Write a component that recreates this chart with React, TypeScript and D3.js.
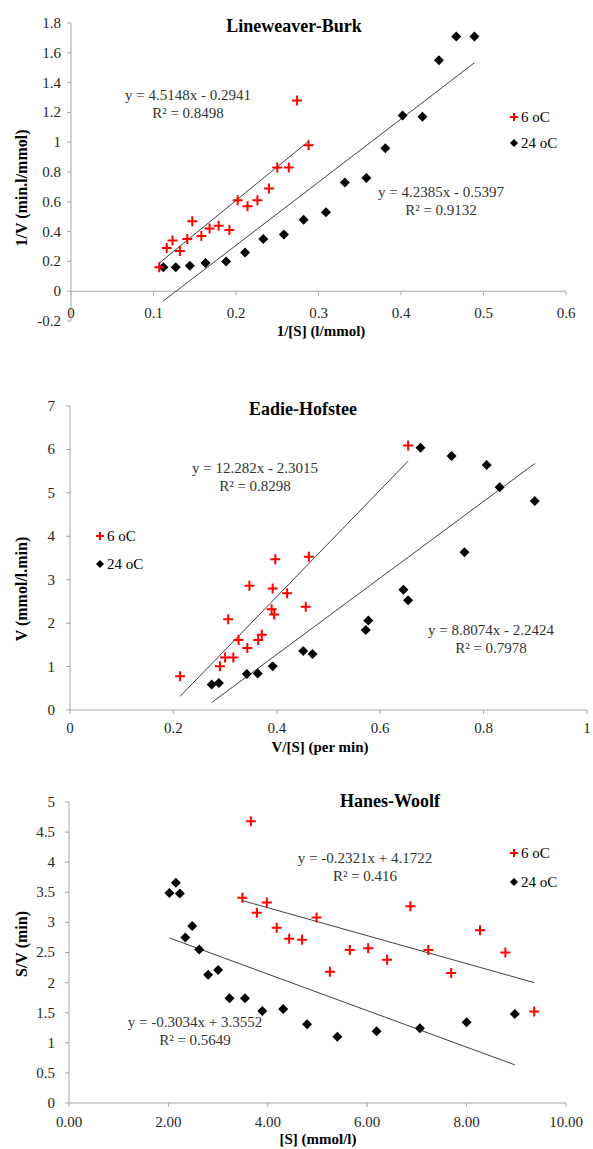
import React from "react";
import * as d3 from "d3";

const W = 593;
const H = 1149;
const FONT = "'Liberation Serif', 'Times New Roman', 'DejaVu Serif', serif";

// Lineweaver-Burk data
const lbRedX = [0.107, 0.116, 0.123, 0.132, 0.141, 0.147, 0.158, 0.168, 0.179, 0.192, 0.202, 0.214, 0.226, 0.24, 0.25, 0.264, 0.274, 0.288];
const lbRedY = [0.16, 0.29, 0.34, 0.27, 0.35, 0.47, 0.37, 0.42, 0.44, 0.41, 0.61, 0.57, 0.61, 0.69, 0.83, 0.83, 1.28, 0.98];
const lbBlackX = [0.112, 0.127, 0.144, 0.163, 0.188, 0.211, 0.233, 0.258, 0.282, 0.309, 0.332, 0.358, 0.381, 0.402, 0.426, 0.446, 0.467, 0.489];
const lbBlackY = [0.16, 0.16, 0.17, 0.19, 0.2, 0.26, 0.35, 0.38, 0.48, 0.53, 0.73, 0.76, 0.96, 1.18, 1.17, 1.55, 1.71, 1.71];
const lbFitRed = [4.5148, -0.2941];
const lbFitBlack = [4.2385, -0.5397];
const lbEqRed = ["y = 4.5148x - 0.2941", "R² = 0.8498"];
const lbEqBlack = ["y = 4.2385x - 0.5397", "R² = 0.9132"];
const lbXTicks = [0, 0.1, 0.2, 0.3, 0.4, 0.5, 0.6];
const lbYTicks = [-0.2, 0, 0.2, 0.4, 0.6, 0.8, 1, 1.2, 1.4, 1.6, 1.8];

// Eadie-Hofstee data
const ehRedX = [0.213, 0.29, 0.3, 0.306, 0.316, 0.326, 0.343, 0.347, 0.364, 0.371, 0.39, 0.392, 0.395, 0.397, 0.42, 0.456, 0.462, 0.654];
const ehRedY = [0.78, 1.01, 1.21, 2.09, 1.21, 1.61, 1.43, 2.86, 1.61, 1.73, 2.32, 2.8, 2.2, 3.47, 2.69, 2.38, 3.53, 6.09];
const ehBlackX = [0.274, 0.288, 0.342, 0.363, 0.392, 0.451, 0.469, 0.572, 0.577, 0.645, 0.654, 0.678, 0.738, 0.763, 0.806, 0.831, 0.899];
const ehBlackY = [0.59, 0.62, 0.83, 0.84, 1.01, 1.36, 1.29, 1.84, 2.06, 2.77, 2.53, 6.04, 5.85, 3.63, 5.64, 5.13, 4.81];
const ehFitRed = [12.282, -2.3015];
const ehFitBlack = [8.8074, -2.2424];
const ehEqRed = ["y = 12.282x - 2.3015", "R² = 0.8298"];
const ehEqBlack = ["y = 8.8074x - 2.2424", "R² = 0.7978"];
const ehXTicks = [0, 0.2, 0.4, 0.6, 0.8, 1];
const ehYTicks = [0, 1, 2, 3, 4, 5, 6, 7];

// Hanes-Woolf data
const hwRedX = [3.49, 3.66, 3.78, 3.98, 4.18, 4.43, 4.69, 4.98, 5.25, 5.65, 6.02, 6.4, 6.87, 7.23, 7.69, 8.27, 8.78, 9.36];
const hwRedY = [3.41, 4.68, 3.16, 3.33, 2.91, 2.73, 2.71, 3.08, 2.18, 2.54, 2.57, 2.38, 3.27, 2.54, 2.16, 2.87, 2.5, 1.52];
const hwBlackX = [2.02, 2.15, 2.23, 2.34, 2.48, 2.62, 2.8, 3.0, 3.23, 3.54, 3.89, 4.31, 4.79, 5.4, 6.19, 7.06, 8.0, 8.97];
const hwBlackY = [3.49, 3.66, 3.48, 2.75, 2.94, 2.55, 2.13, 2.21, 1.74, 1.74, 1.53, 1.56, 1.31, 1.1, 1.19, 1.24, 1.34, 1.48];
const hwFitRed = [-0.2321, 4.1722];
const hwFitBlack = [-0.3034, 3.3552];
const hwEqRed = ["y = -0.2321x + 4.1722", "R² = 0.416"];
const hwEqBlack = ["y = -0.3034x + 3.3552", "R² = 0.5649"];
const hwXTicks = [0, 2, 4, 6, 8, 10];
const hwYTicks = [0, 0.5, 1, 1.5, 2, 2.5, 3, 3.5, 4, 4.5, 5];

const legendLabels = ["6 oC", "24 oC"];

const general = (v) => String(+v.toFixed(2));
const fixed2 = d3.format(".2f");

const Plus = ({ x, y, r = 5, w = 2 }) => (
  <path d={`M${x - r},${y}H${x + r}M${x},${y - r}V${y + r}`} stroke="#ff0000" strokeWidth={w} fill="none" />
);
const Diamond = ({ x, y, r = 5 }) => (
  <path d={`M${x},${y - r}L${x + r},${y}L${x},${y + r}L${x - r},${y}Z`} fill="#000" />
);

function Panel(p) {
  const x = d3.scaleLinear().domain(p.xDomain).range(p.xRange);
  const y = d3.scaleLinear().domain(p.yDomain).range(p.yRange);
  const axisY = y(0);
  const axisColor = "#a6a6a6";

  const fitLine = (xs, fit) => {
    const [m, b] = fit;
    const x0 = d3.min(xs), x1 = d3.max(xs);
    return d3.line()([[x(x0), y(m * x0 + b)], [x(x1), y(m * x1 + b)]]);
  };

  return (
    <g style={{ fontFamily: FONT }}>
      <text x={p.titlePos[0]} y={p.titlePos[1]} textAnchor="middle" fontSize={18} fontWeight="bold">{p.title}</text>

      {/* axes */}
      <line x1={p.xRange[0]} x2={p.xRange[1]} y1={axisY} y2={axisY} stroke={axisColor} />
      <line x1={p.xRange[0]} x2={p.xRange[0]} y1={p.yRange[0]} y2={p.yRange[1]} stroke={axisColor} />
      {p.xTicks.map((t) => (
        <g key={"xt" + t}>
          <line x1={x(t)} x2={x(t)} y1={axisY} y2={axisY + 4} stroke={axisColor} />
          <text x={x(t)} y={p.xLabelY} textAnchor="middle" fontSize={p.tickSize} fill="#262626">{p.xFmt(t)}</text>
        </g>
      ))}
      {p.yTicks.map((t) => (
        <g key={"yt" + t}>
          <line x1={p.xRange[0] - 4} x2={p.xRange[0]} y1={y(t)} y2={y(t)} stroke={axisColor} />
          <text x={p.yLabelX} y={y(t)} dy="0.33em" textAnchor="end" fontSize={p.tickSize} fill="#262626">{p.yFmt(t)}</text>
        </g>
      ))}

      <text x={p.xTitlePos[0]} y={p.xTitlePos[1]} textAnchor="middle" fontSize={15} fontWeight="bold">{p.xTitle}</text>
      <text transform={`translate(${p.yTitlePos[0]},${p.yTitlePos[1]}) rotate(-90)`} textAnchor="middle" fontSize={16} fontWeight="bold">{p.yTitle}</text>

      {/* trendlines */}
      <path d={fitLine(p.redX, p.fitRed)} stroke="#404040" strokeWidth={1} fill="none" />
      <path d={fitLine(p.blackX, p.fitBlack)} stroke="#404040" strokeWidth={1} fill="none" />

      {/* points */}
      {p.blackX.map((v, i) => <Diamond key={"b" + i} x={x(v)} y={y(p.blackY[i])} />)}
      {p.redX.map((v, i) => <Plus key={"r" + i} x={x(v)} y={y(p.redY[i])} />)}

      {/* equations */}
      {[[p.eqRed, p.eqRedPos], [p.eqBlack, p.eqBlackPos]].map(([lines, pos], k) => (
        <text key={"eq" + k} x={pos[0]} y={pos[1]} textAnchor="middle" fontSize={15} fill="#333">
          <tspan x={pos[0]} dy={0}>{lines[0]}</tspan>
          <tspan x={pos[0]} dy={18}>{lines[1]}</tspan>
        </text>
      ))}

      {/* legend */}
      <Plus x={p.legendPos[0]} y={p.legendPos[1]} r={4} />
      <text x={p.legendPos[0] + 7} y={p.legendPos[1] + 5} fontSize={15}>{legendLabels[0]}</text>
      <Diamond x={p.legendPos[0]} y={p.legendPos[1] + p.legendGap} r={4} />
      <text x={p.legendPos[0] + 7} y={p.legendPos[1] + p.legendGap + 5} fontSize={15}>{legendLabels[1]}</text>
    </g>
  );
}

export default function App() {
  return (
    <svg width={W} height={H} style={{ position: "absolute", left: 0, top: 0, background: "#fff", fontFamily: FONT }}>
      <rect width={W} height={H} fill="#fff" />
      <Panel
        title="Lineweaver-Burk" titlePos={[294, 32]}
        xDomain={[0, 0.6]} xRange={[71, 566]} yDomain={[-0.2, 1.8]} yRange={[321, 23]}
        xTicks={lbXTicks} yTicks={lbYTicks} xFmt={general} yFmt={general}
        xLabelY={318} yLabelX={61} tickSize={15}
        xTitle="1/[S] (l/mmol)" xTitlePos={[321, 336]}
        yTitle="1/V (min.l/mmol)" yTitlePos={[27, 188]}
        redX={lbRedX} redY={lbRedY} blackX={lbBlackX} blackY={lbBlackY}
        fitRed={lbFitRed} fitBlack={lbFitBlack}
        eqRed={lbEqRed} eqRedPos={[188, 100]} eqBlack={lbEqBlack} eqBlackPos={[441, 197]}
        legendPos={[514, 117]} legendGap={26}
      />
      <Panel
        title="Eadie-Hofstee" titlePos={[303, 415]}
        xDomain={[0, 1]} xRange={[70, 587]} yDomain={[0, 7]} yRange={[710, 406]}
        xTicks={ehXTicks} yTicks={ehYTicks} xFmt={general} yFmt={general}
        xLabelY={733} yLabelX={55} tickSize={15}
        xTitle="V/[S] (per min)" xTitlePos={[320, 752]}
        yTitle="V (mmol/l.min)" yTitlePos={[27, 589]}
        redX={ehRedX} redY={ehRedY} blackX={ehBlackX} blackY={ehBlackY}
        fitRed={ehFitRed} fitBlack={ehFitBlack}
        eqRed={ehEqRed} eqRedPos={[255, 473]} eqBlack={ehEqBlack} eqBlackPos={[491, 635]}
        legendPos={[100, 536]} legendGap={28}
      />
      <Panel
        title="Hanes-Woolf" titlePos={[390, 807]}
        xDomain={[0, 10]} xRange={[69, 566]} yDomain={[0, 5]} yRange={[1103, 802]}
        xTicks={hwXTicks} yTicks={hwYTicks} xFmt={fixed2} yFmt={general}
        xLabelY={1127} yLabelX={55} tickSize={15}
        xTitle="[S] (mmol/l)" xTitlePos={[318, 1144]}
        yTitle="S/V (min)" yTitlePos={[27, 944]}
        redX={hwRedX} redY={hwRedY} blackX={hwBlackX} blackY={hwBlackY}
        fitRed={hwFitRed} fitBlack={hwFitBlack}
        eqRed={hwEqRed} eqRedPos={[365, 863]} eqBlack={hwEqBlack} eqBlackPos={[195, 1027]}
        legendPos={[514, 853]} legendGap={29}
      />
    </svg>
  );
}
